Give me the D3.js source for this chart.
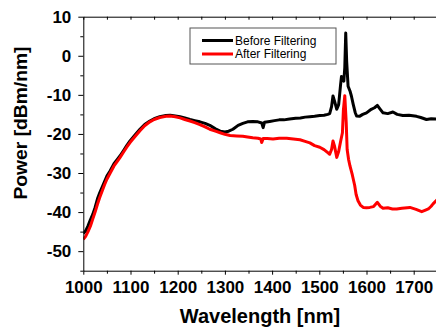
<!DOCTYPE html>
<html>
<head>
<meta charset="utf-8">
<script src="https://cdn.jsdelivr.net/npm/d3@7"></script>
<style>
  body { margin: 0; background: #fff; }
  text { font-family: "Liberation Sans", Arial, sans-serif; }
</style>
</head>
<body>
<svg id="chart" width="436" height="327"></svg>
<script>
// spectra (wavelength nm, power dBm/nm)
const beforeWl = [1000,1005,1010,1015,1020,1025,1030,1035,1040,1045,1050,1057,1065,1072,1078,1085,1092,1099,1110,1120,1130,1141,1150,1162,1175,1184,1195,1205,1215,1226,1236,1247,1258,1268,1280,1290,1300,1308,1317,1328,1338,1348,1359,1370,1378,1381,1384,1395,1405,1415,1425,1437,1450,1460,1470,1480,1490,1501,1510,1518,1522,1526,1529,1532,1537,1541,1545,1547,1550,1552,1554,1556,1558,1561,1565,1568,1572,1576,1579,1585,1592,1600,1610,1617,1623,1628,1635,1645,1656,1665,1677,1690,1706,1715,1727,1737,1750];
const beforePow = [-45.5,-44.8,-43.5,-42.0,-40.6,-38.8,-36.6,-35.0,-33.6,-32.2,-30.8,-29.4,-27.6,-26.5,-25.6,-24.3,-23.0,-21.8,-20.2,-18.8,-17.6,-16.7,-16.1,-15.6,-15.3,-15.2,-15.4,-15.6,-15.9,-16.3,-16.6,-16.9,-17.3,-17.8,-18.7,-19.3,-19.5,-19.3,-18.8,-17.8,-17.3,-16.9,-16.8,-16.9,-17.2,-18.4,-17.0,-16.8,-16.6,-16.4,-16.4,-16.2,-16.0,-15.9,-15.7,-15.6,-15.5,-15.3,-15.2,-15.0,-14.8,-13.0,-10.3,-11.5,-13.7,-12.5,-7.5,-5.3,-5.8,-6.5,-3.0,5.8,-1.5,-7.8,-9.0,-10.3,-12.5,-14.5,-15.4,-15.5,-15.0,-14.6,-13.7,-13.3,-12.7,-13.5,-14.6,-14.8,-14.4,-15.0,-15.3,-15.2,-15.5,-15.8,-16.3,-16.1,-16.2];

const afterWl = [1000,1005,1010,1015,1020,1025,1030,1035,1040,1045,1050,1057,1065,1072,1078,1085,1092,1099,1110,1120,1130,1141,1150,1162,1175,1184,1195,1205,1215,1226,1236,1247,1258,1268,1280,1290,1300,1311,1325,1338,1348,1359,1370,1376,1378,1381,1390,1402,1415,1431,1445,1459,1470,1480,1490,1501,1510,1518,1522,1526,1529,1532,1537,1541,1545,1549,1551,1554,1557,1559,1562,1565,1570,1575,1578,1582,1587,1593,1600,1607,1615,1623,1629,1635,1645,1655,1664,1675,1692,1705,1717,1725,1731,1737,1741,1750];
const afterPow = [-47.0,-46.2,-45.0,-43.6,-41.8,-40.0,-38.0,-36.2,-34.6,-33.0,-31.6,-30.0,-28.2,-27.0,-26.0,-24.7,-23.4,-22.2,-20.6,-19.2,-17.9,-16.9,-16.3,-15.8,-15.5,-15.4,-15.6,-15.9,-16.3,-16.7,-17.1,-17.6,-18.2,-18.8,-19.3,-19.7,-20.1,-20.4,-20.5,-20.6,-20.8,-21.0,-21.1,-21.3,-22.2,-21.2,-21.2,-21.3,-21.1,-21.1,-21.3,-21.5,-21.9,-22.3,-23.0,-23.4,-24.0,-24.8,-25.2,-24.0,-21.8,-23.0,-26.0,-24.5,-22.0,-19.7,-14.0,-10.2,-17.0,-24.0,-26.5,-28.2,-30.5,-33.2,-35.5,-37.1,-38.2,-38.8,-38.9,-38.8,-38.6,-37.5,-38.5,-39.0,-38.9,-39.2,-39.2,-39.0,-38.8,-39.3,-39.9,-39.5,-39.2,-38.5,-37.9,-36.8];

const seriesNames = ['Before Filtering', 'After Filtering'];
const seriesColors = ['#000000', '#ff0000'];
const xTicks = [1000, 1100, 1200, 1300, 1400, 1500, 1600, 1700];
const yTicks = [-50, -40, -30, -20, -10, 0, 10];

const svg = d3.select('#chart');
const plotLeft = 83.3, plotRight = 437.3, plotTop = 16.7, plotBottom = 270.7;

const x = d3.scaleLinear().domain([1000, 1750]).range([plotLeft, plotRight]);
const y = d3.scaleLinear().domain([-55, 10]).range([plotBottom, plotTop]);

svg.append('clipPath').attr('id', 'plot')
  .append('rect').attr('x', plotLeft).attr('y', plotTop)
  .attr('width', plotRight - plotLeft).attr('height', plotBottom - plotTop);

const line = d3.line().x(d => x(d[0])).y(d => y(d[1]));
const series = [
  d3.zip(beforeWl, beforePow),
  d3.zip(afterWl, afterPow)
];

series.forEach((s, i) => {
  svg.append('path')
    .datum(s)
    .attr('clip-path', 'url(#plot)')
    .attr('fill', 'none')
    .attr('stroke', seriesColors[i])
    .attr('stroke-width', 3)
    .attr('stroke-linejoin', 'round')
    .attr('d', line);
});

// axes
const minorX = d3.range(1050, 1750, 100);
const minorY = d3.range(-55, 10, 10);

const xAxis = svg.append('g').attr('transform', `translate(0,${plotBottom})`)
  .call(d3.axisBottom(x).tickValues(xTicks).tickFormat(d3.format('d'))
    .tickSize(4).tickSizeOuter(0).tickPadding(6));
svg.append('g').attr('transform', `translate(0,${plotBottom})`)
  .call(d3.axisBottom(x).tickValues(minorX).tickSize(3).tickFormat(''))
  .select('.domain').remove();

const yAxis = svg.append('g').attr('transform', `translate(${plotLeft},0)`)
  .call(d3.axisLeft(y).tickValues(yTicks).tickSize(5).tickSizeOuter(0).tickPadding(7));
svg.append('g').attr('transform', `translate(${plotLeft},0)`)
  .call(d3.axisLeft(y).tickValues(minorY).tickSize(3).tickFormat(''))
  .select('.domain').remove();

// top frame with inward ticks
svg.append('g').attr('transform', `translate(0,${plotTop})`)
  .call(d3.axisTop(x).tickValues(d3.range(1000, 1750, 50)).tickSize(-3).tickSizeOuter(0).tickFormat(''));

svg.selectAll('.domain, .tick line').attr('stroke', '#000').attr('stroke-width', 1);

xAxis.selectAll('text')
  .attr('font-size', 17).attr('font-weight', 'bold').attr('fill', '#000');
yAxis.selectAll('text')
  .attr('font-size', 17).attr('font-weight', 'bold').attr('fill', '#000')
  .text(d => d < 0 ? '-' + Math.abs(d) : d);

// axis titles
svg.append('text')
  .attr('x', 260).attr('y', 323)
  .attr('text-anchor', 'middle')
  .attr('font-size', 20).attr('font-weight', 'bold')
  .text('Wavelength [nm]');

svg.append('text')
  .attr('transform', 'translate(26.5,123) rotate(-90)')
  .attr('text-anchor', 'middle')
  .attr('font-size', 19).attr('font-weight', 'bold')
  .attr('textLength', 153).attr('lengthAdjust', 'spacingAndGlyphs')
  .text('Power [dBm/nm]');

// legend
const legend = svg.append('g');
legend.append('rect')
  .attr('x', 190).attr('y', 28).attr('width', 146).attr('height', 36)
  .attr('fill', '#fff').attr('stroke', '#555').attr('stroke-width', 1);

seriesNames.forEach((name, i) => {
  const ly = 40.5 + i * 13.5;
  legend.append('line')
    .attr('x1', 202).attr('x2', 233).attr('y1', ly).attr('y2', ly)
    .attr('stroke', seriesColors[i]).attr('stroke-width', 3);
  legend.append('text')
    .attr('x', 235).attr('y', ly + 4)
    .attr('font-size', 12)
    .text(name);
});
</script>
</body>
</html>
